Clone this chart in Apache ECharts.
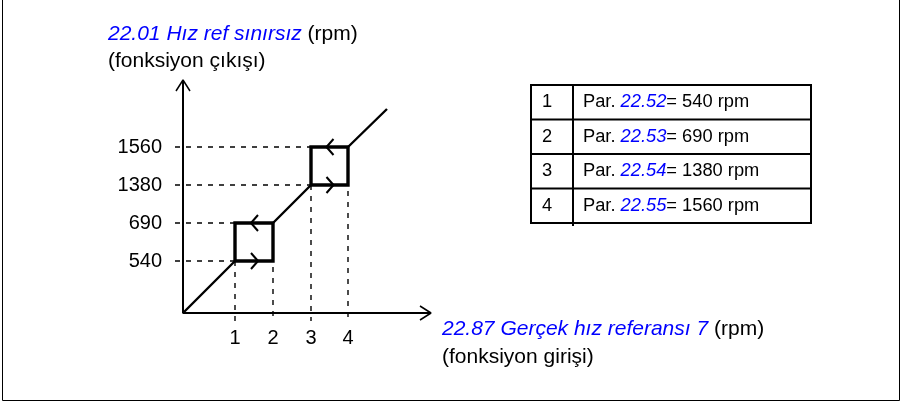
<!DOCTYPE html>
<html>
<head>
<meta charset="utf-8">
<script src="https://cdn.jsdelivr.net/npm/echarts@6/dist/echarts.min.js"></script>
<style>
html,body{margin:0;padding:0;background:#fff;}
#main{width:903px;height:402px;}
</style>
</head>
<body>
<div id="main"></div>
<script>
// ---- data ----
const inputTickLabels = ['1', '2', '3', '4'];
const outputTickLabels = ['540', '690', '1380', '1560'];
// schematic positions of the thresholds on each axis (diagram units)
const inputPos = [52, 90, 128, 165];
const outputPos = [52, 90, 128, 166];
const lineEnd = [204, 204];
const parIds = ['22.52', '22.53', '22.54', '22.55'];
const parValues = ['540', '690', '1380', '1560'];
const yTitleBlue = '22.01 Hız ref sınırsız';
const yTitleSub = '(fonksiyon çıkışı)';
const xTitleBlue = '22.87 Gerçek hız referansı 7';
const xTitleSub = '(fonksiyon girişi)';

const BLUE = '#0000ff';
const FONT = 'Liberation Sans, Arial, sans-serif';

const chart = echarts.init(document.getElementById('main'), null, {renderer: 'canvas'});

// build series data from arrays
const P = i => [inputPos[i], outputPos[i]];
const diag = [[0, 0], P(0), '-', P(1), P(2), '-', P(3), lineEnd];
const square = (a, b) => [[inputPos[a], outputPos[a]], [inputPos[b], outputPos[a]], [inputPos[b], outputPos[b]], [inputPos[a], outputPos[b]], [inputPos[a], outputPos[a]]];
const squares = square(0, 1).concat(['-'], square(2, 3));
function chevrons() {
  const out = [];
  [[0, 1], [2, 3]].forEach(([a, b]) => {
    const m = (inputPos[a] + inputPos[b]) / 2;
    const yl = outputPos[a], yh = outputPos[b];
    out.push([m - 3, yl + 8], [m + 4, yl], [m - 3, yl - 8], '-');
    out.push([m + 4, yh + 8], [m - 3, yh], [m + 4, yh - 8], '-');
  });
  return out;
}
const dashes = [];
for (let i = 0; i < 4; i++) {
  dashes.push([-8, outputPos[i]], [inputPos[i], outputPos[i]], '-');
  dashes.push([inputPos[i], outputPos[i]], [inputPos[i], -8], '-');
}
const arrows = [[-7, 222], [0, 233], [7, 222], '-', [237, 7], [248, 0], [237, -7]];
const axesLines = [[0, 233], [0, 0], [248, 0]];

const option = {
  animation: false,
  grid: {left: 163, top: 63, width: 280, height: 270},
  xAxis: {
    type: 'value', min: -20, max: 260,
    axisLine: {show: false}, splitLine: {show: false}, axisTick: {show: false},
    axisLabel: {
      customValues: inputPos, margin: -5,
      formatter: v => inputTickLabels[inputPos.indexOf(v)] || '',
      color: '#000', fontSize: 20, fontFamily: FONT
    }
  },
  yAxis: {
    type: 'value', min: -20, max: 250,
    axisLine: {show: false}, splitLine: {show: false}, axisTick: {show: false},
    axisLabel: {
      customValues: outputPos, margin: 1,
      formatter: v => outputTickLabels[outputPos.indexOf(v)] || '',
      color: '#000', fontSize: 20, fontFamily: FONT
    }
  },
  series: [
    {type: 'line', data: dashes, symbol: 'none', clip: false,
     lineStyle: {color: '#000', width: 1.4, type: [5, 6]}, z: 1},
    {type: 'line', data: axesLines, symbol: 'none', clip: false, lineStyle: {color: '#000', width: 2}, z: 3},
    {type: 'line', data: arrows, symbol: 'none', clip: false, lineStyle: {color: '#000', width: 1.5}, z: 3},
    {type: 'line', data: diag, symbol: 'none', clip: false, lineStyle: {color: '#000', width: 2.4}, z: 4},
    {type: 'line', data: squares, symbol: 'none', clip: false, lineStyle: {color: '#000', width: 3.4, join: 'miter', cap: 'square'}, z: 5},
    {type: 'line', data: chevrons(), symbol: 'none', clip: false, lineStyle: {color: '#000', width: 2}, z: 5}
  ],
  graphic: []
};

// titles
const g = option.graphic;
const TF = 21;
g.push({type: 'text', left: 108, top: 24, style: {
  text: '{b|' + yTitleBlue + '} (rpm)', font: TF + 'px ' + FONT, fill: '#000',
  rich: {b: {fill: BLUE, fontStyle: 'italic', fontSize: TF, fontFamily: FONT}}
}});
g.push({type: 'text', left: 108, top: 51, style: {text: yTitleSub, font: TF + 'px ' + FONT, fill: '#000'}});
g.push({type: 'text', left: 442, top: 319, style: {
  text: '{b|' + xTitleBlue + '} (rpm)', font: TF + 'px ' + FONT, fill: '#000',
  rich: {b: {fill: BLUE, fontStyle: 'italic', fontSize: TF, fontFamily: FONT}}
}});
g.push({type: 'text', left: 442, top: 347, style: {text: xTitleSub, font: TF + 'px ' + FONT, fill: '#000'}});

// table
const tX = 531, tY = 85, tW = 280, rowH = 34.5, colX = 573, TBF = 18.3;
for (let i = 0; i < parIds.length; i++) {
  const y = tY + i * rowH;
  g.push({type: 'text', x: 547, y: y + rowH / 2, style: {text: String(i + 1), font: TBF + 'px ' + FONT, fill: '#000', align: 'center', verticalAlign: 'middle'}});
  g.push({type: 'text', x: 583, y: y + rowH / 2, style: {
    text: 'Par. {b|' + parIds[i] + '}= ' + parValues[i] + ' rpm', font: TBF + 'px ' + FONT, fill: '#000', verticalAlign: 'middle',
    rich: {b: {fill: BLUE, fontStyle: 'italic', fontSize: TBF, fontFamily: FONT}}
  }});
  if (i > 0) g.push({type: 'line', shape: {x1: tX, y1: y, x2: tX + tW, y2: y}, style: {stroke: '#000', lineWidth: 2}});
}
g.push({type: 'rect', shape: {x: tX, y: tY, width: tW, height: rowH * 4}, style: {fill: 'none', stroke: '#000', lineWidth: 2}});
g.push({type: 'line', shape: {x1: colX, y1: tY, x2: colX, y2: tY + rowH * 4 + 3}, style: {stroke: '#000', lineWidth: 2}});

// outer frame
g.push({type: 'polyline', shape: {points: [[2.5, 0], [2.5, 400.5], [899.5, 400.5], [899.5, 0]]}, style: {fill: 'none', stroke: '#000', lineWidth: 1}});

chart.setOption(option);
</script>
</body>
</html>
